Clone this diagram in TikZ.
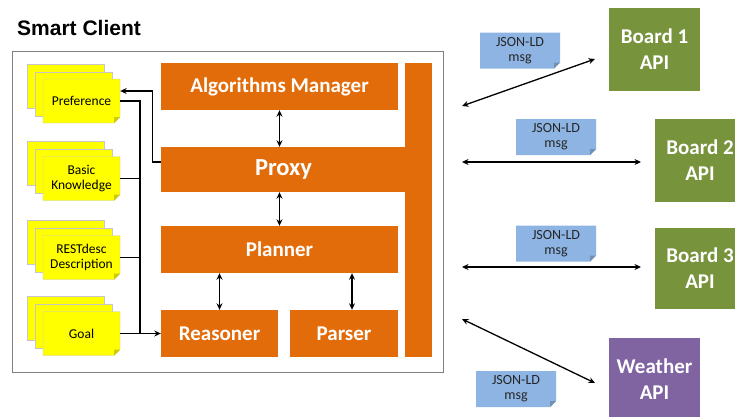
\documentclass[tikz,border=0pt]{standalone}
\usepackage{fontspec}
\setmainfont{Carlito}
\newfontfamily\titlefont{Liberation Sans}
\usetikzlibrary{arrows.meta,calc}
\definecolor{orng}{RGB}{227,108,10}
\definecolor{docyel}{RGB}{255,255,0}
\definecolor{docfoldc}{RGB}{204,204,0}
\definecolor{noteblue}{RGB}{142,180,227}
\definecolor{notefoldc}{RGB}{114,144,182}
\definecolor{grn}{RGB}{119,147,60}
\definecolor{purp}{RGB}{128,100,162}
\tikzset{
  obox/.style={fill=orng, text=white, font=\bfseries\fontsize{21}{24}\selectfont, inner sep=0pt},
  apibox/.style={text=white, font=\bfseries\fontsize{21}{26}\selectfont, align=center, inner sep=0pt, minimum width=90, minimum height=83},
  docback/.style={fill=docyel, draw=black!22, line width=0.4pt},
  docfront/.style={fill=docyel, draw=black!22, line width=0.4pt},
  docfold/.style={fill=docfoldc},
  doctext/.style={font=\fontsize{13.5}{15.5}\selectfont, align=center, inner sep=0pt, minimum width=77, minimum height=44},
  notetext/.style={font=\fontsize{14}{15}\selectfont, text=black!85, align=center, inner sep=0pt, minimum width=80, minimum height=36},
  conn/.style={line width=1.3pt, draw=black},
  onearrow/.style={conn, -{Stealth[length=6.5pt,width=6pt]}},
  dblarrow/.style={conn, {Stealth[length=6.5pt,width=6pt]}-{Stealth[length=6.5pt,width=6pt]}},
}
\newcommand\docstack[3]{%
  \fill[docback] (27,#2-37) rectangle (104,#2+7);
  \fill[docback] (35,#2-29) rectangle (112,#2+15);
  \filldraw[docfront] (43,#2-22) -- (120,#2-22) -- (120,#2+16) -- (114,#2+22) -- (43,#2+22) -- cycle;
  \fill[docfold] (120,#2+16) -- (114,#2+16) -- (114,#2+22) -- cycle;
  \node[doctext] (#1) at (81.5,#2) {#3};
}
\newcommand\notebox[4]{%
  \fill[noteblue] (#2-40,#3-18) -- (#2+40,#3-18) -- (#2+40,#3+12) -- (#2+34,#3+18) -- (#2-40,#3+18) -- cycle;
  \fill[notefoldc] (#2+40,#3+12) -- (#2+34,#3+12) -- (#2+34,#3+18) -- cycle;
  \node[notetext] (#1) at (#2,#3) {#4};
}
\begin{document}
\begin{tikzpicture}[x=1pt,y=-1pt]
\useasboundingbox (0,0) rectangle (735,416);
\clip (0,0) rectangle (735,416);
\fill[white] (0,0) rectangle (735,416);

% title
\node[anchor=west, inner sep=0pt, font=\titlefont\bfseries\fontsize{21}{24}\selectfont] (title) at (17,28) {Smart Client};

% outer frame
\draw[draw=black!50, line width=0.8pt] (12,51) rectangle (443,372);

% orange blocks
\node[obox, minimum width=27, minimum height=294] (bar) at (418.5,210) {};
\node[obox, minimum width=237, minimum height=47] (am) at (279.5,86.5) {Algorithms Manager};
\node[obox, minimum width=245, minimum height=45, font=\bfseries\fontsize{24.5}{28}\selectfont] (proxy) at (283.5,169.5) {Proxy};
\node[obox, minimum width=237, minimum height=47] (planner) at (279.5,249.5) {Planner};
\node[obox, minimum width=117, minimum height=47] (reasoner) at (219.5,333.5) {Reasoner};
\node[obox, minimum width=108, minimum height=47] (parser) at (344,333.5) {Parser};

% inner arrows
\draw[dblarrow] (am.south) -- (am.south |- proxy.north);
\draw[dblarrow] (planner.north |- proxy.south) -- (planner.north);
\draw[dblarrow] (reasoner.north |- planner.south) -- (reasoner.north);
\coordinate (pa) at ($(parser.north)+(8,0)$);
\draw[dblarrow] (pa |- planner.south) -- (pa);

% documents
\docstack{pref}{101}{Preference}
\docstack{know}{178.5}{Basic\\Knowledge}
\docstack{rest}{257.5}{RESTdesc\\Description}
\docstack{goal}{333.5}{Goal}

% connections left
\coordinate (bus) at (140,333.5);
\draw[onearrow] ($(proxy.west)+(0,-7.5)$) -- ++(-8,0) |- ($(pref.east)+(0,-10)$);
\draw[conn] (pref.east) -| (bus);
\draw[conn] (know.east) -| (bus);
\draw[conn] (rest.east) -| (bus);
\draw[onearrow] (goal.east) -- (reasoner.west);

% APIs
\node[apibox, fill=grn, minimum width=91] (b1) at (654.5,49.5) {Board 1\\API};
\node[apibox, fill=grn] (b2) at (700,160.5) {Board 2\\API};
\node[apibox, fill=grn, minimum height=81] (b3) at (700,268.5) {Board 3\\API};
\node[apibox, fill=purp, minimum width=91] (weather) at (654.5,379.5) {Weather\\API};

% notes
\notebox{n1}{520}{50.5}{JSON-LD\\msg}
\notebox{n2}{556}{137}{JSON-LD\\msg}
\notebox{n3}{556}{243.5}{JSON-LD\\msg}
\notebox{n4}{516}{389}{JSON-LD\\msg}

% external arrows
\coordinate (c1) at (462,106);
\coordinate (c2) at (462,162);
\coordinate (c3) at (462,267);
\coordinate (c4) at (462,319);
\coordinate (e1) at (595,59);
\coordinate (e2) at (641,162);
\coordinate (e3) at (641,267);
\coordinate (e4) at (595,383);
\draw[dblarrow] (c1) -- (e1);
\draw[dblarrow] (c2) -- (e2);
\draw[dblarrow] (c3) -- (e3);
\draw[dblarrow] (c4) -- (e4);
\end{tikzpicture}
\end{document}
